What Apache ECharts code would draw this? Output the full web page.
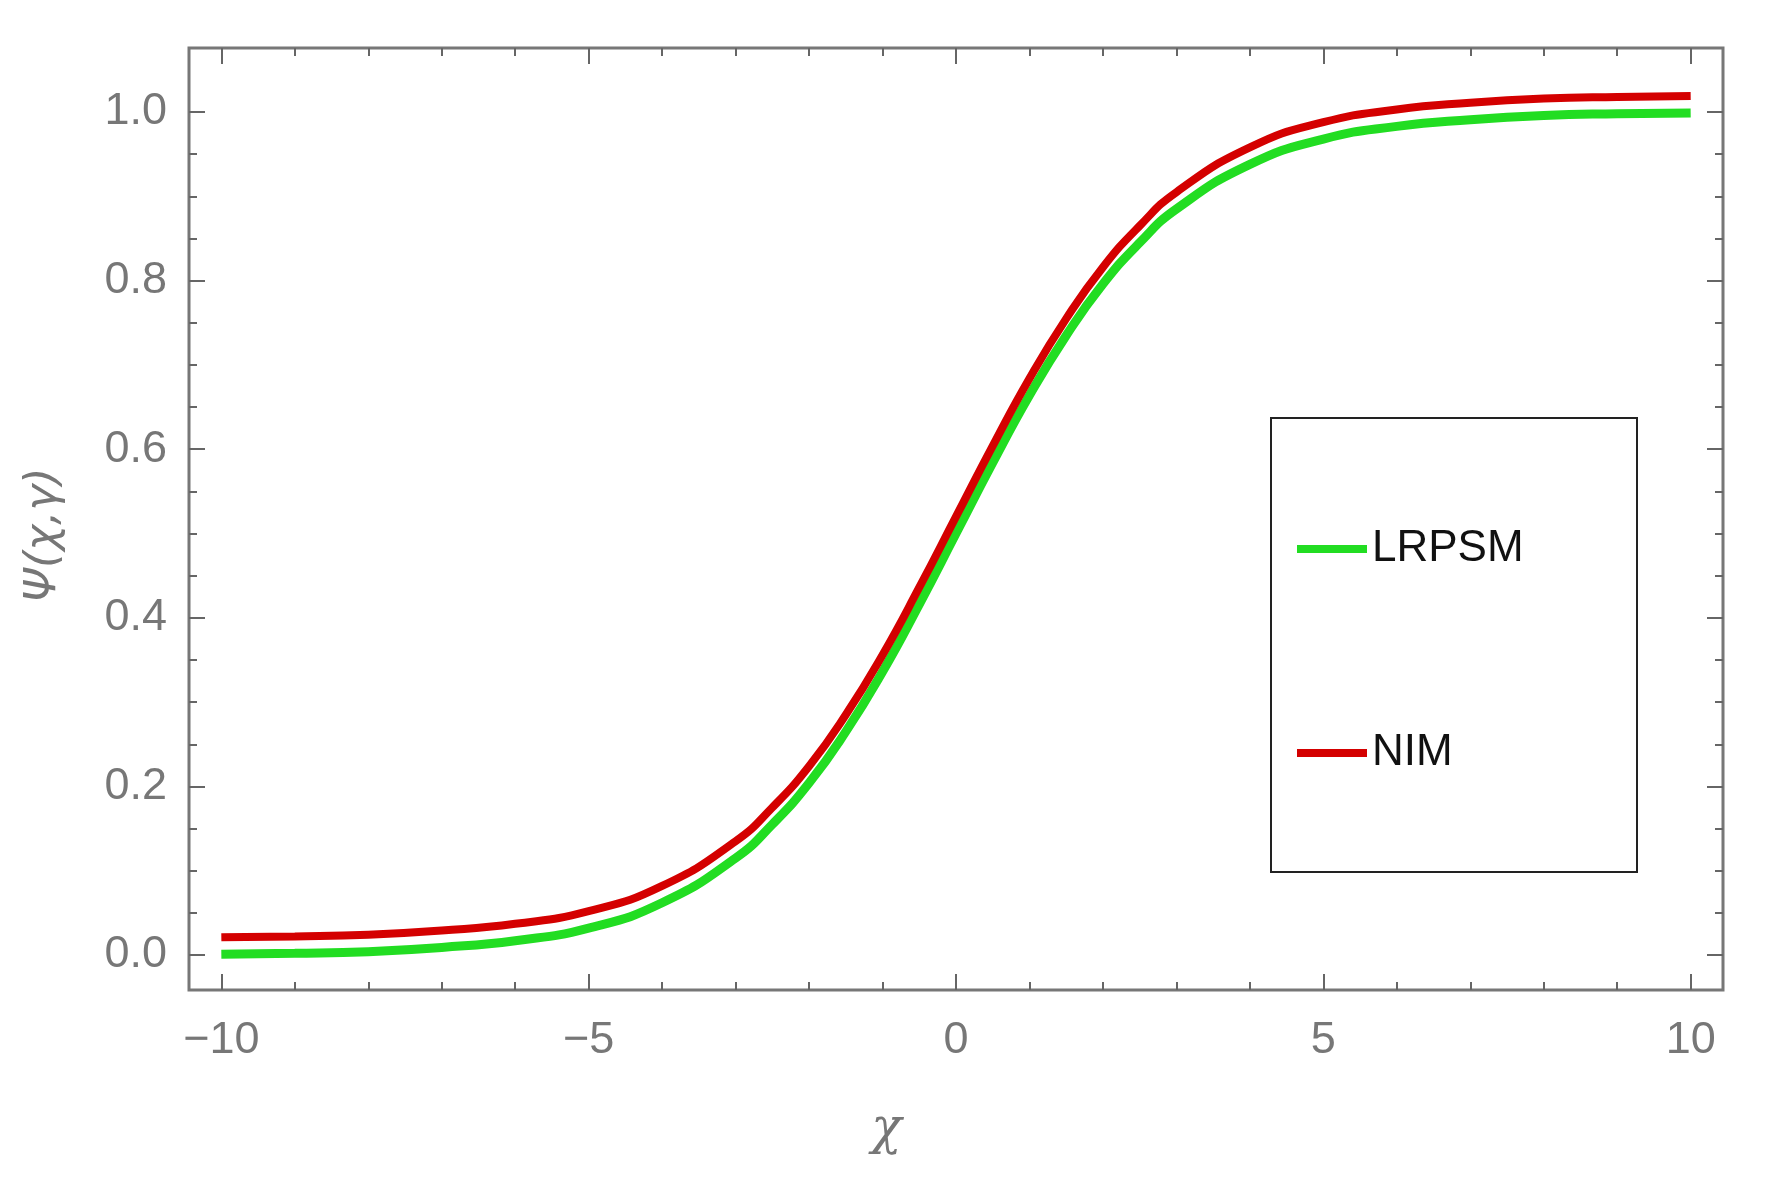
<!DOCTYPE html>
<html>
<head>
<meta charset="UTF-8">
<script src="https://cdn.jsdelivr.net/npm/echarts@6/dist/echarts.min.js"></script>
<style>body{margin:0;background:#fff}#c{width:1773px;height:1188px}</style>
</head>
<body>
<div id="c"></div>
<script>
var xs = [-10,-9,-8,-7,-6,-5,-4,-3,-2.5,-2,-1.5,-1,-0.5,0,0.5,1,1.5,2,2.5,3,4,5,6,7,8,9,10];
var lrpsm = [0.001,0.002,0.004,0.009,0.017,0.032,0.062,0.115,0.155,0.204,0.265,0.336,0.416,0.5,0.584,0.664,0.735,0.796,0.845,0.885,0.938,0.968,0.983,0.991,0.996,0.998,0.999];
var nim = [0.021,0.022,0.024,0.029,0.037,0.052,0.082,0.135,0.175,0.224,0.285,0.356,0.436,0.52,0.604,0.684,0.755,0.816,0.865,0.905,0.958,0.988,1.003,1.011,1.016,1.018,1.019];
var xLabels = [-10,-5,0,5,10];
var xMinor = [-10,-9,-8,-7,-6,-5,-4,-3,-2,-1,0,1,2,3,4,5,6,7,8,9,10];
var yLabels = [0,0.2,0.4,0.6,0.8,1.0];
var yMinor = [0,0.05,0.1,0.15,0.2,0.25,0.3,0.35,0.4,0.45,0.5,0.55,0.6,0.65,0.7,0.75,0.8,0.85,0.9,0.95,1.0];

var gray = '#666';
function xa(pos, vals, len, labels) {
  return {
    type: 'value', position: pos, min: -10.44, max: 10.44,
    axisLine: { show: false, onZero: false }, splitLine: { show: false },
    axisTick: { show: true, inside: true, length: len, customValues: vals, lineStyle: { color: gray, width: 2 } },
    axisLabel: { show: labels, customValues: xLabels, margin: 28, color: '#777', fontSize: 45, fontFamily: 'Liberation Sans',
      formatter: function (v) { return String(v).replace('-', '\u2212'); } }
  };
}
function ya(pos, vals, len, labels) {
  return {
    type: 'value', position: pos, min: -0.0415, max: 1.076,
    axisLine: { show: false, onZero: false }, splitLine: { show: false },
    axisTick: { show: true, inside: true, length: len, customValues: vals, lineStyle: { color: gray, width: 2 } },
    axisLabel: { show: labels, customValues: yLabels, margin: 22, color: '#777', fontSize: 45, fontFamily: 'Liberation Sans',
      formatter: function (v) { return v.toFixed(1); } }
  };
}
var chart = echarts.init(document.getElementById('c'));
chart.setOption({
  animation: false,
  grid: { left: 189, right: 50, top: 48, bottom: 198, show: true, borderColor: '#777', borderWidth: 3 },
  xAxis: [xa('bottom', xLabels, 16, true), xa('bottom', xMinor, 8, false), xa('top', xLabels, 16, false), xa('top', xMinor, 8, false)],
  yAxis: [ya('left', yLabels, 16, true), ya('left', yMinor, 8, false), ya('right', yLabels, 16, false), ya('right', yMinor, 8, false)],
  legend: {
    orient: 'vertical', left: 1292, top: 522, itemGap: 160, itemWidth: 70, itemHeight: 8,
    icon: 'rect', textStyle: { fontSize: 44, color: '#111', fontFamily: 'Liberation Sans' },
    data: ['LRPSM', 'NIM']
  },
  graphic: [
    { type: 'rect', shape: { x: 1271, y: 418, width: 366, height: 454 }, style: { fill: 'none', stroke: '#222', lineWidth: 2 } },
    { type: 'text', left: 'center', top: 1105, style: { text: '\u03c7', font: 'italic 50px "DejaVu Serif"', fill: '#777' } },
    { type: 'text', x: 45, y: 535, rotation: Math.PI / 2, style: { text: '\u03a8(\u03c7,\u03b3)', font: 'italic 44px "DejaVu Sans"', fill: '#777', align: 'center', verticalAlign: 'middle' } }
  ],
  series: [
    { name: 'LRPSM', type: 'line', smooth: true, showSymbol: false, color: '#22dd22',
      lineStyle: { width: 9, color: '#22dd22' }, data: xs.map(function (x, i) { return [x, lrpsm[i]]; }) },
    { name: 'NIM', type: 'line', smooth: true, showSymbol: false, color: '#d40000',
      lineStyle: { width: 8, color: '#d40000' }, data: xs.map(function (x, i) { return [x, nim[i]]; }) }
  ]
});
</script>
</body>
</html>
